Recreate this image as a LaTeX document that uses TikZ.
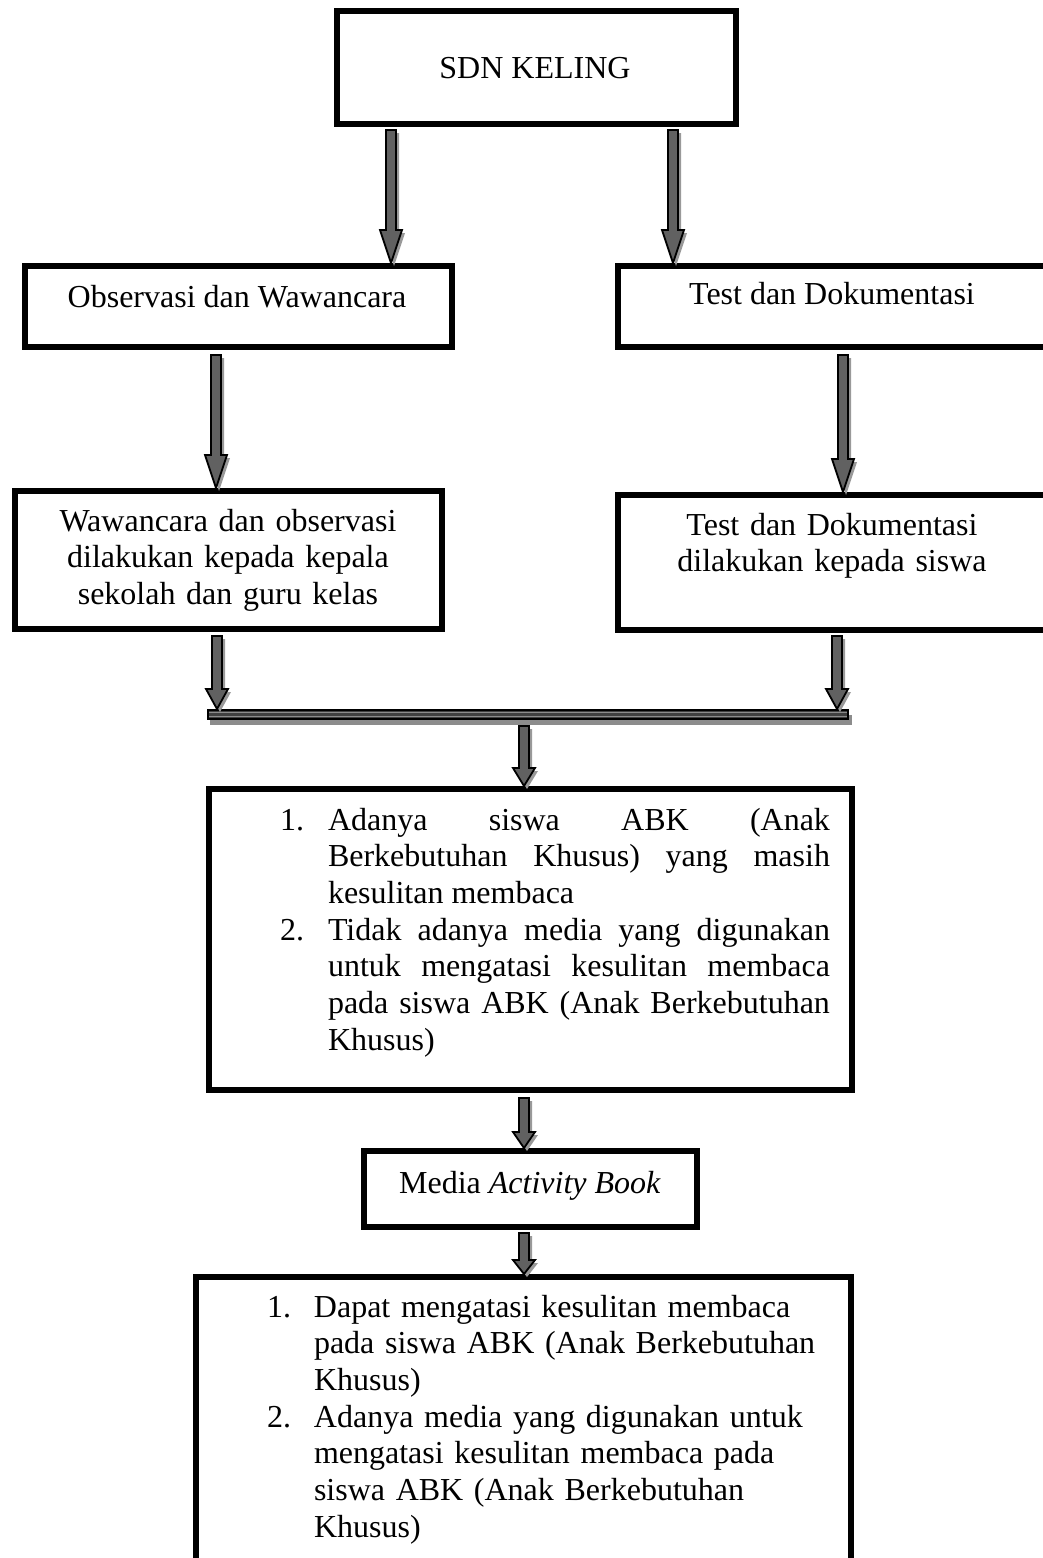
\documentclass[tikz,border=0pt]{standalone}
\usepackage{fontspec}
\setmainfont{Liberation Serif}
\usetikzlibrary{calc}

\tikzset{
  box/.style={draw=black, line width=3pt, fill=white, inner sep=0pt, rectangle},
  txt/.style={inner sep=0pt, outer sep=0pt, font=\fontsize{16pt}{18.35pt}\selectfont},
  listtxt/.style={txt, anchor=base west},
  barstyle/.style={draw=black, line width=1pt, fill=black!75, inner sep=0pt, rectangle},
  arrowbody/.style={draw=black, line width=0.9pt, line join=miter,
    top color=black!62, middle color=black!97, bottom color=black!62},
  arrowshadow/.style={fill=black!40, transform canvas={xshift=1.5pt,yshift=-1.5pt}},
}

% #1 head length (px), #2 start coordinate, #3 tip coordinate
\newcommand{\blockarrow}[3][30]{%
  \path[arrowshadow]
    ($(#2)+(-5,0)$) -- ($(#3)+(-5,-#1)$) -- ($(#3)+(-11,-#1)$) -- (#3)
    -- ($(#3)+(11,-#1)$) -- ($(#3)+(5,-#1)$) -- ($(#2)+(5,0)$) -- cycle;
  \path[arrowbody]
    ($(#2)+(-5,0)$) -- ($(#3)+(-5,-#1)$) -- ($(#3)+(-11,-#1)$) -- (#3)
    -- ($(#3)+(11,-#1)$) -- ($(#3)+(5,-#1)$) -- ($(#2)+(5,0)$) -- cycle;
}

\newcommand{\listitem}[3]{\noindent\hangindent=#1\hangafter=1\makebox[#1][l]{#2}#3\par}

\begin{document}
\begin{tikzpicture}[x=0.5pt,y=-0.5pt]
\useasboundingbox (0,0) rectangle (1043,1558);

% boxes
\node[box, minimum width=199.5pt, minimum height=56.5pt] (sdn) at (536.5,67.5) {};
\node[box, minimum width=213.5pt, minimum height=40.5pt] (obs) at (238.5,306.5) {};
\node[box, minimum width=214pt, minimum height=40.5pt] (test) at (832,306.5) {};
\node[box, minimum width=213.5pt, minimum height=69pt] (waw) at (228.5,560) {};
\node[box, minimum width=214pt, minimum height=67.5pt] (tst2) at (832,562.5) {};
\node[box, minimum width=321.5pt, minimum height=150.5pt] (box3) at (530.5,939.5) {};
\node[box, minimum width=166.5pt, minimum height=38pt] (media) at (530.5,1189) {};
\node[box, minimum width=327.5pt, minimum height=170pt] (last) at (523.5,1447) {};

% collecting bar
\fill[black!45] (210,715) rectangle (852,725);
\node[barstyle, minimum width=320pt, minimum height=4.5pt] (bar) at (528,714.5) {};
\draw[black!45, line width=0.5pt] ($(bar.west)+(2,-2.2)$) -- ($(bar.east)+(-2,-2.2)$);
\draw[black!45, line width=0.5pt] ($(bar.west)+(2,2.2)$) -- ($(bar.east)+(-2,2.2)$);

% texts
\node[txt, anchor=base] (sdnt) at (535,78) {SDN KELING};
\node[txt, anchor=base] (obst) at (237,307) {Observasi dan Wawancara};
\node[txt, anchor=base] (testt) at (832,304) {Test dan Dokumentasi};
\node[txt, anchor=base, text width=200pt, align=center] (wawt) at (228,531)
  {Wawancara dan observasi\\dilakukan kepada kepala\\sekolah dan guru kelas};
\node[txt, anchor=base, text width=200pt, align=center] (tst2t) at (832,535)
  {Test dan Dokumentasi\\dilakukan kepada siswa};
\node[listtxt, text width=275pt, align=justify] (box3t) at (280,830)
  {\hyphenpenalty=10000\exhyphenpenalty=10000\tolerance=9999\parindent=0pt\parskip=0pt
   \spaceskip=0.25em plus 2em minus 0.05em\xspaceskip=\spaceskip
   \listitem{24pt}{1.}{Adanya siswa ABK (Anak Berkebutuhan Khusus) yang masih kesulitan membaca}%
   \listitem{24pt}{2.}{Tidak adanya media yang digunakan untuk mengatasi kesulitan membaca pada siswa ABK (Anak Berkebutuhan Khusus)}};
\node[txt, anchor=base] (mediat) at (530,1193) {Media \textit{Activity Book}};
\node[listtxt, text width=280pt] (lastt) at (267,1317)
  {\hyphenpenalty=10000\exhyphenpenalty=10000\tolerance=9999\parindent=0pt\parskip=0pt
   \leftskip=0pt\rightskip=0pt plus 3em\parfillskip=0pt plus 1fil
   \listitem{23.5pt}{1.}{Dapat mengatasi kesulitan membaca pada siswa ABK (Anak Berkebutuhan Khusus)}%
   \listitem{23.5pt}{2.}{Adanya media yang digunakan untuk mengatasi kesulitan membaca pada siswa ABK (Anak Berkebutuhan Khusus)}};

% arrow x positions
\coordinate (xA) at (391,0);
\coordinate (xB) at (673,0);
\coordinate (xC) at (216,0);
\coordinate (xD) at (843,0);
\coordinate (xE) at (217,0);
\coordinate (xF) at (837,0);
\coordinate (xG) at (524,0);

\coordinate (a1s) at ($(sdn.south -| xA)+(0,3)$);  \coordinate (a1e) at (obs.north -| xA);
\coordinate (a2s) at ($(sdn.south -| xB)+(0,3)$);  \coordinate (a2e) at (test.north -| xB);
\coordinate (a3s) at ($(obs.south -| xC)+(0,5)$);  \coordinate (a3e) at (waw.north -| xC);
\coordinate (a4s) at ($(test.south -| xD)+(0,5)$); \coordinate (a4e) at (tst2.north -| xD);
\coordinate (a5s) at ($(waw.south -| xE)+(0,4)$);  \coordinate (a5e) at (bar.north -| xE);
\coordinate (a6s) at ($(tst2.south -| xF)+(0,3)$); \coordinate (a6e) at (bar.north -| xF);
\coordinate (a7s) at ($(bar.south -| xG)+(0,6)$);  \coordinate (a7e) at (box3.north -| xG);
\coordinate (a8s) at ($(box3.south -| xG)+(0,5)$); \coordinate (a8e) at (media.north -| xG);
\coordinate (a9s) at ($(media.south -| xG)+(0,3)$);\coordinate (a9e) at (last.north -| xG);

\blockarrow[33]{a1s}{a1e}
\blockarrow[33]{a2s}{a2e}
\blockarrow[33]{a3s}{a3e}
\blockarrow[33]{a4s}{a4e}
\blockarrow[20]{a5s}{a5e}
\blockarrow[20]{a6s}{a6e}
\blockarrow[18]{a7s}{a7e}
\blockarrow[16]{a8s}{a8e}
\blockarrow[14]{a9s}{a9e}
\end{tikzpicture}
\end{document}
